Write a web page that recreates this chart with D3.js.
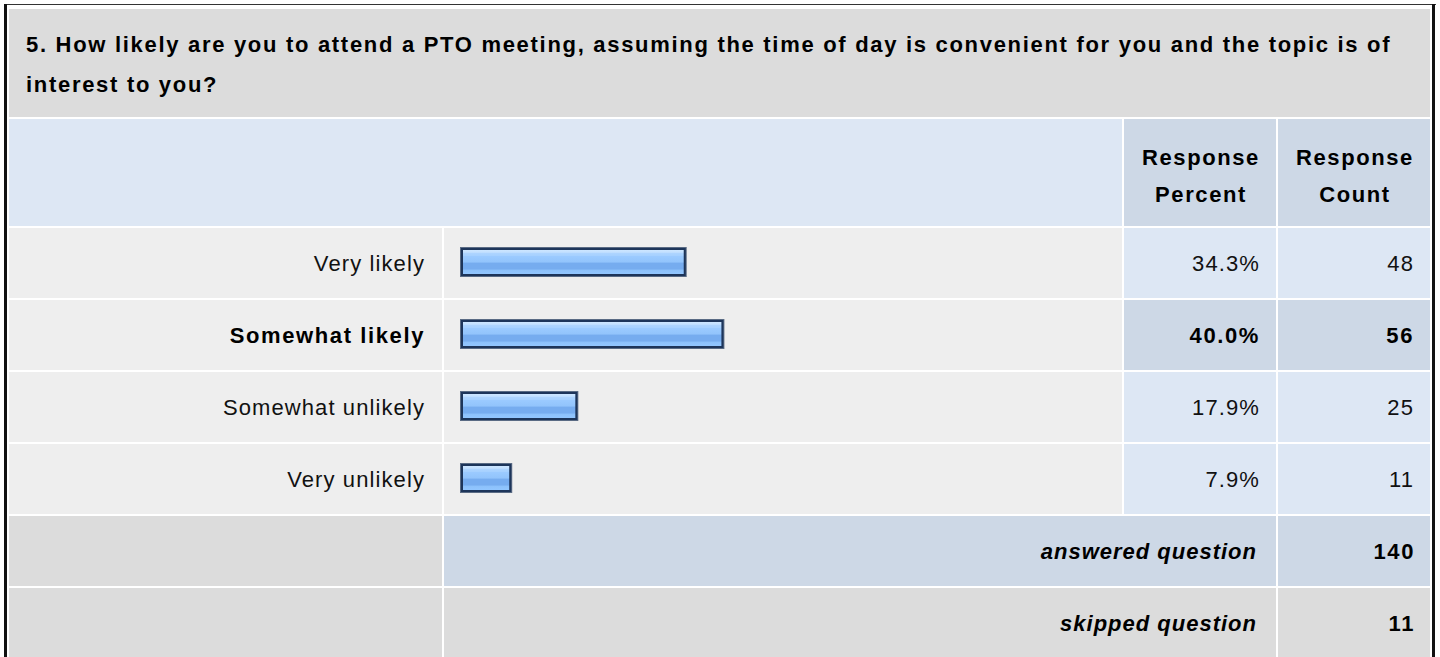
<!DOCTYPE html>
<html>
<head>
<meta charset="utf-8">
<style>
  body { margin: 0; background: #fff; }
  svg { display: block; font-family: Arial, 'Liberation Sans', sans-serif; }
  .txt { font-size: 22px; letter-spacing: 1.1px; fill: #111; }
  .bold { font-weight: bold; fill: #000; letter-spacing: 1.6px; }
  .title { letter-spacing: 1.7px; }
  .ital { font-style: italic; letter-spacing: 1px; }
</style>
</head>
<body>
<svg width="1440" height="657"></svg>
<script src="https://d3js.org/d3.v7.min.js"></script>
<script>
const question = [
  "5. How likely are you to attend a PTO meeting, assuming the time of day is convenient for you and the topic is of",
  "interest to you?"
];
const headerPercent = ["Response", "Percent"];
const headerCount = ["Response", "Count"];
const answers = ["Very likely", "Somewhat likely", "Somewhat unlikely", "Very unlikely"];
const percents = [34.3, 40.0, 17.9, 7.9];
const counts = [48, 56, 25, 11];
const totalLabels = ["answered question", "skipped question"];
const totals = [140, 11];

const svg = d3.select("svg");

// colours
const grey = "#dcdcdc", lightGrey = "#eeeeee", lightBlue = "#dde7f4", midBlue = "#cdd8e6";

// columns
const col = {
  label: [9, 442],
  bar: [444, 1122],
  pct: [1124, 1276],
  cnt: [1278, 1430]
};

// rows below the header
const rowKeys = answers.concat(totalLabels);
const y = d3.scaleBand()
  .domain(rowKeys)
  .range([228, 658])
  .paddingInner(2 / 72)
  .paddingOuter(0);

const x = d3.scaleLinear()
  .domain([0, 100])
  .range([460, 1121]);

const maxIdx = d3.maxIndex(percents);

// frame
svg.append("rect").attr("x", 4).attr("y", 4).attr("width", 1432).attr("height", 1).attr("fill", "#333");
svg.append("rect").attr("x", 4).attr("y", 4).attr("width", 3).attr("height", 660).attr("fill", "#111");
svg.append("rect").attr("x", 1432).attr("y", 4).attr("width", 3).attr("height", 660).attr("fill", "#111");

// gradient for the bars
const grad = svg.append("defs").append("linearGradient")
  .attr("id", "barGrad").attr("x1", 0).attr("y1", 0).attr("x2", 0).attr("y2", 1);
[
  [0, "#cde6ff"], [0.1, "#c2e0ff"], [0.12, "#afd5ff"], [0.25, "#a5d0ff"],
  [0.27, "#9bcaff"], [0.5, "#92c4fc"], [0.55, "#76acef"], [0.8, "#76acef"],
  [0.83, "#8cc1fb"], [1, "#92c6ff"]
].forEach(s => grad.append("stop").attr("offset", s[0]).attr("stop-color", s[1]));

function cell(x0, x1, y0, h, fill) {
  svg.append("rect")
    .attr("x", x0).attr("y", y0)
    .attr("width", x1 - x0).attr("height", h)
    .attr("fill", fill);
}

function label(str, xx, yy, anchor, cls) {
  svg.append("text")
    .attr("class", "txt " + (cls || ""))
    .attr("x", xx).attr("y", yy)
    .attr("text-anchor", anchor)
    .text(str);
}

// title
cell(9, 1430, 9, 108, grey);
question.forEach((q, i) => label(q, 26, 52 + i * 40, "start", "bold title"));

// header
cell(9, 1122, 119, 107, lightBlue);
cell(col.pct[0], col.pct[1], 119, 107, midBlue);
cell(col.cnt[0], col.cnt[1], 119, 107, midBlue);
headerPercent.forEach((h, i) => label(h, (col.pct[0] + col.pct[1]) / 2 + 1, 165 + i * 37, "middle", "bold"));
headerCount.forEach((h, i) => label(h, (col.cnt[0] + col.cnt[1]) / 2 + 1, 165 + i * 37, "middle", "bold"));

// answer rows
answers.forEach((a, i) => {
  const y0 = y(a), h = y.bandwidth(), base = y0 + h / 2 + 8;
  const hi = i === maxIdx;
  cell(col.label[0], col.label[1], y0, h, lightGrey);
  cell(col.bar[0], col.bar[1], y0, h, lightGrey);
  cell(col.pct[0], col.pct[1], y0, h, hi ? midBlue : lightBlue);
  cell(col.cnt[0], col.cnt[1], y0, h, hi ? midBlue : lightBlue);

  label(a, col.label[1] - 17, base, "end", hi ? "bold" : "");
  label(percents[i].toFixed(1) + "%", col.pct[1] - 16, base, "end", hi ? "bold" : "");
  label(counts[i], col.cnt[1] - 16, base, "end", hi ? "bold" : "");

  // bar: outer edge, dark border, gradient fill
  const bx = x(0), bw = x(percents[i]) - x(0), by = y0 + h / 2 - 16, bh = 30;
  const g = svg.append("g").attr("class", "bar");
  g.append("rect").attr("x", bx).attr("y", by).attr("width", bw).attr("height", bh).attr("fill", "#5a6b84");
  g.append("rect").attr("x", bx + 1).attr("y", by + 1).attr("width", bw - 2).attr("height", bh - 2).attr("fill", "#1d355a");
  g.append("rect").attr("x", bx + 3).attr("y", by + 3).attr("width", bw - 6).attr("height", bh - 6).attr("fill", "url(#barGrad)");
});

// totals
totalLabels.forEach((t, i) => {
  const y0 = y(t), h = y.bandwidth(), base = y0 + h / 2 + 8;
  const fill = i === 0 ? midBlue : grey;
  cell(col.label[0], col.label[1], y0, h, grey);
  cell(col.bar[0], col.pct[1], y0, h, fill);
  cell(col.cnt[0], col.cnt[1], y0, h, fill);
  label(t, col.pct[1] - 19, base, "end", "bold ital");
  label(totals[i], col.cnt[1] - 15, base, "end", "bold");
});
</script>
</body>
</html>
